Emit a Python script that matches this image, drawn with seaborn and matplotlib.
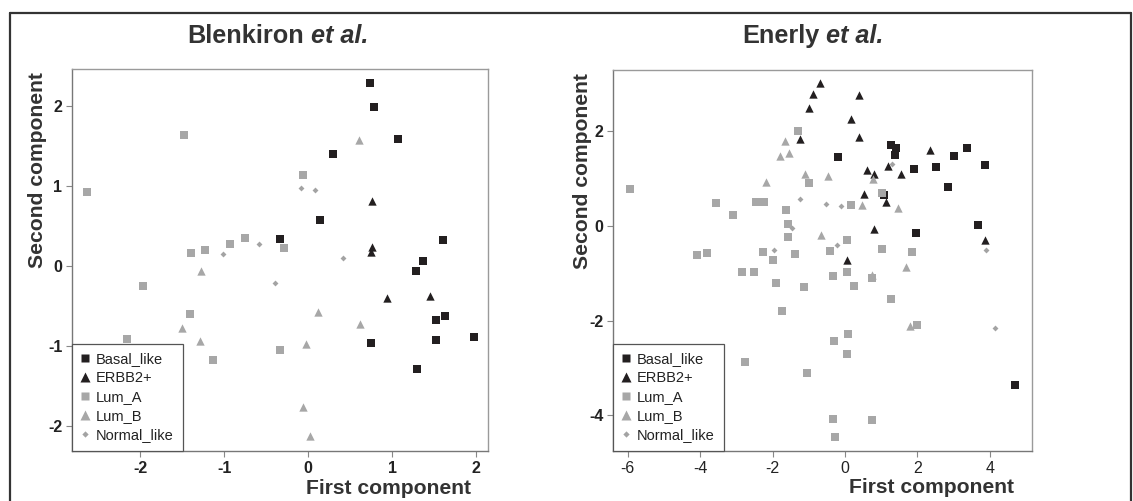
import numpy as np
import pandas as pd
import matplotlib
matplotlib.use("Agg")
import matplotlib.pyplot as plt
from matplotlib.lines import Line2D
import seaborn as sns

# ---------------- data ----------------
subtypes = ["Basal_like", "ERBB2+", "Lum_A", "Lum_B", "Normal_like"]

# Blenkiron et al.
bl_basal_x = [0.73, 0.78, 1.07, 0.29, 0.14, -0.33, 1.61, 1.37, 1.28, 1.52, 1.63, 0.75, 1.52, 1.97, 1.30]
bl_basal_y = [2.29, 1.98, 1.59, 1.40, 0.57, 0.34, 0.32, 0.06, -0.06, -0.67, -0.62, -0.96, -0.93, -0.89, -1.29]
bl_erbb2_x = [0.76, 0.76, 0.75, 0.94, 1.45]
bl_erbb2_y = [0.81, 0.24, 0.18, -0.40, -0.37]
bl_luma_x = [-2.63, -1.48, -0.06, -0.29, -1.39, -1.23, -0.93, -0.75, -1.97, -1.40, -2.15, -1.13, -0.34]
bl_luma_y = [0.92, 1.63, 1.14, 0.23, 0.16, 0.20, 0.27, 0.35, -0.25, -0.60, -0.91, -1.17, -1.05]
bl_lumb_x = [0.61, -1.28, -1.50, -1.29, -0.02, -0.06, 0.02, 0.12, 0.62]
bl_lumb_y = [1.57, -0.06, -0.77, -0.94, -0.98, -1.76, -2.12, -0.58, -0.72]
bl_norm_x = [-0.08, 0.08, -1.01, -0.58, 0.42, -0.39]
bl_norm_y = [0.98, 0.95, 0.15, 0.28, 0.10, -0.21]

# Enerly et al.
en_basal_x = [-0.19, 1.27, 1.40, 1.38, 3.37, 3.01, 1.91, 2.51, 3.87, 2.85, 1.09, 1.97, 3.68, 4.71]
en_basal_y = [1.46, 1.72, 1.64, 1.51, 1.66, 1.49, 1.21, 1.24, 1.30, 0.82, 0.66, -0.14, 0.03, -3.36]
en_erbb2_x = [-0.68, -0.88, 0.39, -1.00, 0.16, -1.24, 0.39, 0.60, 0.81, 0.52, 0.79, 0.06, 2.35, 1.20, 1.55, 1.13, 3.88]
en_erbb2_y = [3.02, 2.80, 2.78, 2.50, 2.26, 1.85, 1.88, 1.18, 1.10, 0.68, -0.07, -0.73, 1.61, 1.27, 1.10, 0.51, -0.30]
en_luma_x = [-1.29, -0.99, -5.95, -3.56, -2.46, -2.25, 0.18, -1.62, -3.09, -1.56, -1.56, 0.05, -0.41,
             -4.10, -3.80, -2.27, -1.37, -1.98, -2.84, -2.51, -0.34, 0.07, 0.76, -1.90, -1.12, 0.26,
             -1.74, 0.09, -0.29, 0.06, -2.77, -1.05, -0.33, 0.75, -0.27, 1.02, 1.02, 1.86, 1.27, 2.00]
en_luma_y = [2.01, 0.90, 0.79, 0.49, 0.51, 0.51, 0.44, 0.34, 0.23, 0.05, -0.23, -0.29, -0.52,
             -0.61, -0.58, -0.54, -0.59, -0.73, -0.97, -0.97, -1.06, -0.97, -1.10, -1.20, -1.30, -1.28,
             -1.79, -2.29, -2.43, -2.70, -2.88, -3.11, -4.08, -4.10, -4.46, 0.69, -0.49, -0.54, -1.54, -2.10]
en_lumb_x = [-1.66, -1.80, -1.54, -1.11, -0.48, 0.78, -2.19, 0.46, -0.67, 0.74, 1.47, 1.70, 1.81]
en_lumb_y = [1.80, 1.48, 1.54, 1.09, 1.06, 1.00, 0.94, 0.44, -0.18, -1.03, 0.39, -0.86, -2.11]
en_norm_x = [-1.24, -0.52, -0.11, -1.46, -0.23, -1.96, 1.29, 3.89, 4.14]
en_norm_y = [0.58, 0.46, 0.42, -0.04, -0.40, -0.50, 1.31, -0.51, -2.15]


def make_df(groups):
    rows = []
    for name, xs, ys in groups:
        for x, y in zip(xs, ys):
            rows.append((name, x, y))
    return pd.DataFrame(rows, columns=["subtype", "x", "y"])


df_bl = make_df([("Basal_like", bl_basal_x, bl_basal_y), ("ERBB2+", bl_erbb2_x, bl_erbb2_y),
                 ("Lum_A", bl_luma_x, bl_luma_y), ("Lum_B", bl_lumb_x, bl_lumb_y),
                 ("Normal_like", bl_norm_x, bl_norm_y)])
df_en = make_df([("Basal_like", en_basal_x, en_basal_y), ("ERBB2+", en_erbb2_x, en_erbb2_y),
                 ("Lum_A", en_luma_x, en_luma_y), ("Lum_B", en_lumb_x, en_lumb_y),
                 ("Normal_like", en_norm_x, en_norm_y)])

# ---------------- style ----------------
sns.set_style("white")
plt.rcParams["font.family"] = ["Liberation Sans", "DejaVu Sans"]

DARK = "#231f20"
GRAY = "#a7a7a7"
NGRAY = "#a3a3a3"
colors = {"Basal_like": DARK, "ERBB2+": DARK, "Lum_A": GRAY, "Lum_B": GRAY, "Normal_like": NGRAY}
markers = {"Basal_like": "s", "ERBB2+": "^", "Lum_A": "s", "Lum_B": "^", "Normal_like": "D"}
sizes = {"Basal_like": 26, "ERBB2+": 36, "Lum_A": 26, "Lum_B": 36, "Normal_like": 9}

W, H = 1133, 501
fig = plt.figure(figsize=(W / 100, H / 100), dpi=100)
fig.patch.set_facecolor("white")

ax1 = fig.add_axes([72 / W, (H - 451) / H, 416 / W, 382 / H])
ax2 = fig.add_axes([613 / W, (H - 451) / H, 419 / W, 381 / H])


def draw(ax, df, xlim, ylim, xticks, yticks, xbold, ybold, ylab_x):
    for st in subtypes:
        sub = df[df["subtype"] == st]
        sns.scatterplot(data=sub, x="x", y="y", ax=ax, color=colors[st], marker=markers[st],
                        s=sizes[st], linewidth=0, label=st, legend=False, zorder=3)
    ax.set_xlim(*xlim)
    ax.set_ylim(*ylim)
    ax.set_xticks(xticks)
    ax.set_yticks(yticks)
    ax.set_xticklabels([str(t) for t in xticks], fontsize=11.5,
                       fontweight="bold" if xbold else "normal", color="#222222")
    ax.set_yticklabels([str(t) for t in yticks], fontsize=11.5,
                       fontweight="bold" if ybold else "normal", color="#222222")
    ax.tick_params(axis="both", direction="out", length=4, width=0.8, color="#888888", pad=3,
                   bottom=True, left=True)
    for side in ["top", "right"]:
        ax.spines[side].set_color("#9a9a9a")
        ax.spines[side].set_linewidth(1.0)
    for side in ["left", "bottom"]:
        ax.spines[side].set_color("#777777")
        ax.spines[side].set_linewidth(1.0)
    ax.set_xlabel("First component", fontsize=15.2, fontweight="bold", color="#333333")
    ax.set_ylabel("Second component", fontsize=15.2, fontweight="bold", color="#333333")
    ax.xaxis.set_label_coords(0.76, -0.072)
    ax.yaxis.set_label_coords(ylab_x, 0.735)
    handles = [Line2D([0], [0], marker=markers[st], color="none", markerfacecolor=colors[st],
                      markeredgecolor="none",
                      markersize={"s": 5.5, "^": 6.5, "D": 3.2}[markers[st]]) for st in subtypes]
    leg = ax.legend(handles, subtypes, loc="lower left", bbox_to_anchor=(0, 0), borderaxespad=0,
                    fancybox=False, framealpha=1, edgecolor="#555555", fontsize=10.5,
                    handlelength=0.6, handletextpad=0.45, labelspacing=0.34, borderpad=0.6)
    leg.get_frame().set_linewidth(0.9)
    for t in leg.get_texts():
        t.set_color("#222222")


draw(ax1, df_bl, (-2.81, 2.14), (-2.31, 2.46), [-2, -1, 0, 1, 2], [-2, -1, 0, 1, 2], True, True, -0.06)
draw(ax2, df_en, (-6.41, 5.17), (-4.76, 3.30), [-6, -4, -2, 0, 2, 4], [-4, -2, 0, 2], False, True, -0.05)


# ---------------- titles ----------------
def title(xc_px, base_px, name):
    r = fig.canvas.get_renderer()
    fs = 18.2
    t1 = fig.text(0, 0, name, fontsize=fs, fontweight="bold", color="#333333", va="baseline")
    t2 = fig.text(0, 0, "et al.", fontsize=fs, fontweight="bold", fontstyle="italic",
                  color="#333333", va="baseline")
    w1 = t1.get_window_extent(r).width
    w2 = t2.get_window_extent(r).width
    gap = 0.278 * fs * 100 / 72
    x0 = xc_px - (w1 + gap + w2) / 2
    t1.set_position((x0 / W, 1 - base_px / H))
    t2.set_position(((x0 + w1 + gap) / W, 1 - base_px / H))


title(278, 43, "Blenkiron")
title(813, 43, "Enerly")

# outer frame
for xs, ys in [((10 / W, 1131 / W), (1 - 13 / H, 1 - 13 / H)),
               ((10 / W, 10 / W), (0, 1 - 13 / H)),
               ((1131 / W, 1131 / W), (0, 1 - 13 / H))]:
    fig.add_artist(Line2D(xs, ys, transform=fig.transFigure, color="#333333", linewidth=1.6))

fig.savefig("out.png", dpi=100, facecolor="white")
